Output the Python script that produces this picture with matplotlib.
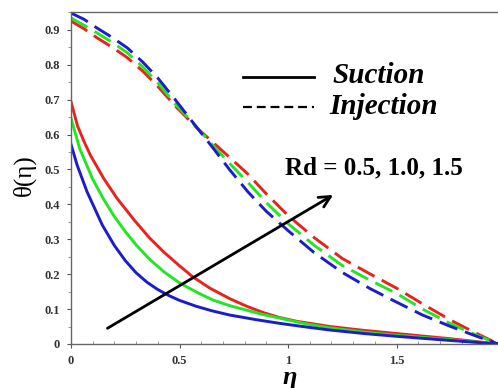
import matplotlib
matplotlib.use("Agg")
import matplotlib.pyplot as plt
from matplotlib.ticker import MultipleLocator, FixedLocator

# Suction (solid) curves
eta_suc_red = [0, 0.03, 0.06, 0.09, 0.15, 0.21, 0.29, 0.36, 0.43, 0.5, 0.562, 0.64, 0.731, 0.81,
               0.886, 0.96, 1.04, 1.194, 1.35, 1.5, 1.75, 1.97]
theta_suc_red = [0.694, 0.625, 0.58, 0.54, 0.475, 0.419, 0.356, 0.305, 0.262, 0.224, 0.192, 0.16,
                 0.13, 0.108, 0.09, 0.076, 0.065, 0.05, 0.039, 0.03, 0.015, 0.0]
eta_suc_green = [0, 0.04, 0.1, 0.15, 0.2, 0.25, 0.3, 0.36, 0.43, 0.5, 0.58, 0.654, 0.73, 0.809,
                 0.88, 0.963, 1.08, 1.194, 1.35, 1.5, 1.75, 1.97]
theta_suc_green = [0.647, 0.56, 0.472, 0.415, 0.365, 0.322, 0.284, 0.244, 0.206, 0.175, 0.148, 0.126,
                   0.11, 0.097, 0.085, 0.074, 0.058, 0.046, 0.034, 0.025, 0.012, 0.0]
eta_suc_blue = [0, 0.028, 0.074, 0.144, 0.2, 0.25, 0.3, 0.35, 0.4, 0.45, 0.5, 0.577, 0.65, 0.731,
                0.85, 0.963, 1.08, 1.194, 1.35, 1.5, 1.75, 1.97]
theta_suc_blue = [0.572, 0.513, 0.436, 0.341, 0.282, 0.239, 0.204, 0.177, 0.156, 0.139, 0.125, 0.108,
                  0.095, 0.083, 0.07, 0.059, 0.049, 0.04, 0.03, 0.022, 0.01, 0.0]

# Injection (dashed) curves
eta_inj = [0, 0.06, 0.12, 0.19, 0.26, 0.33, 0.4, 0.48, 0.57, 0.65, 0.73, 0.815, 0.9, 1.0,
           1.12, 1.25, 1.38, 1.5, 1.62, 1.75, 1.87, 1.97]
theta_inj_red = [0.925, 0.903, 0.877, 0.85, 0.82, 0.782, 0.738, 0.682, 0.625, 0.58, 0.535, 0.487,
                 0.43, 0.368, 0.305, 0.245, 0.2, 0.16, 0.115, 0.068, 0.03, 0.0]
theta_inj_green = [0.934, 0.913, 0.891, 0.864, 0.834, 0.794, 0.748, 0.688, 0.627, 0.572, 0.518, 0.463,
                   0.405, 0.345, 0.283, 0.225, 0.182, 0.145, 0.1, 0.058, 0.025, 0.0]
theta_inj_blue = [0.948, 0.93, 0.905, 0.878, 0.848, 0.808, 0.762, 0.70, 0.628, 0.565, 0.5, 0.436,
                  0.38, 0.325, 0.262, 0.205, 0.158, 0.12, 0.083, 0.05, 0.022, 0.0]

x_ticks = [0, 0.5, 1, 1.5]

RED, GREEN, BLUE = "#e8231f", "#22e622", "#1c1ccc"
SERIF = ["Liberation Serif", "DejaVu Serif"]

fig = plt.figure(figsize=(4.98, 3.88), dpi=100)
ax = fig.add_axes([71 / 498, 1 - 344 / 388, 434 / 498, 332 / 388])

lw = 2.1
ax.plot(eta_suc_red, theta_suc_red, color=RED, lw=lw)
ax.plot(eta_suc_green, theta_suc_green, color=GREEN, lw=lw)
ax.plot(eta_suc_blue, theta_suc_blue, color=BLUE, lw=lw)
dash = (0, (6.5, 2.8))
ax.plot(eta_inj, theta_inj_red, color=RED, lw=lw, ls=dash)
ax.plot(eta_inj, theta_inj_green, color=GREEN, lw=lw, ls=dash)
ax.plot(eta_inj, theta_inj_blue, color=BLUE, lw=lw, ls=dash)

ax.set_xlim(0, 2)
ax.set_ylim(0, 0.951)

ax.xaxis.set_major_locator(FixedLocator(x_ticks))
ax.xaxis.set_minor_locator(MultipleLocator(0.1))
ax.yaxis.set_major_locator(MultipleLocator(0.1))
ax.yaxis.set_minor_locator(MultipleLocator(0.05))
ax.xaxis.set_major_formatter(plt.FuncFormatter(lambda v, p: f"{v:g}"))
ax.yaxis.set_major_formatter(plt.FuncFormatter(lambda v, p: f"{v:g}"))
ax.tick_params(which="major", length=3, width=0.8, color="#555555", pad=5)
ax.tick_params(which="minor", length=2, width=0.6, color="#888888")
ax.tick_params(axis="x", which="minor", direction="in")
for lab in ax.get_xticklabels() + ax.get_yticklabels():
    lab.set_fontfamily(SERIF)
    lab.set_fontweight("bold")
    lab.set_fontsize(9)
    lab.set_color("#333333")

for side in ["top", "left", "bottom", "right"]:
    ax.spines[side].set_color("#666666")
    ax.spines[side].set_linewidth(1.0)

ax.set_xlabel("η", family=SERIF, fontsize=19, fontweight="bold", style="italic")
ax.xaxis.label.set_va("center")
ax.xaxis.set_label_coords(0.505, -0.1)
ax.set_ylabel("θ(η)", family=SERIF, fontsize=18)
ax.yaxis.set_label_coords(-0.08, 0.51)

# legend drawn by hand
ax.plot([0.396, 0.560], [0.804, 0.804], transform=ax.transAxes, color="black", lw=2)
ax.plot([0.396, 0.560], [0.714, 0.714], transform=ax.transAxes, color="black", lw=1.6,
        ls=(0, (4, 2.2)))
ax.text(0.603, 0.808, "Suction", transform=ax.transAxes, family=SERIF, fontsize=21,
        fontweight="bold", style="italic", va="center")
ax.text(0.594, 0.716, "Injection", transform=ax.transAxes, family=SERIF, fontsize=21,
        fontweight="bold", style="italic", va="center")
ax.text(0.493, 0.53, "Rd = 0.5, 1.0, 1.5", transform=ax.transAxes, family=SERIF,
        fontsize=18, fontweight="bold", va="center")

ax.annotate("", xy=(1.208, 0.427), xytext=(0.168, 0.045),
            arrowprops=dict(arrowstyle="->", lw=2, color="black", mutation_scale=20,
                            shrinkA=0, shrinkB=0))

fig.savefig("out.png", dpi=100)
